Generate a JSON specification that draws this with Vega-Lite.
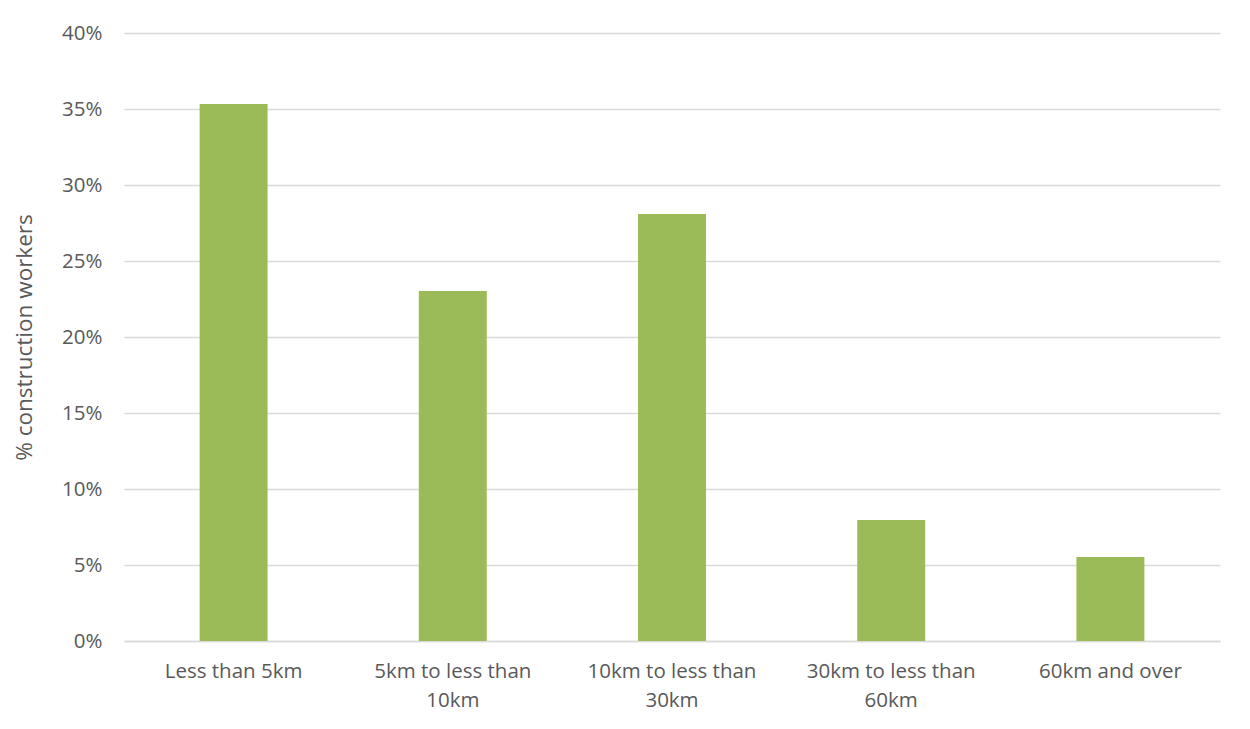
{
  "$schema": "https://vega.github.io/schema/vega-lite/v6.json",
  "width": 1096,
  "height": 608,
  "autosize": {"type": "none"},
  "padding": {"left": 124, "top": 33, "right": 30, "bottom": 88},
  "background": "white",
  "config": {
    "view": {"stroke": null},
    "font": "Open Sans"
  },
  "data": {
    "values": [
      {"distance": "Less than 5km", "pct": 0.3533},
      {"distance": "5km to less than|10km", "pct": 0.2303},
      {"distance": "10km to less than|30km", "pct": 0.2809},
      {"distance": "30km to less than|60km", "pct": 0.0796},
      {"distance": "60km and over", "pct": 0.0553}
    ]
  },
  "mark": {"type": "bar", "color": "#9BBB59"},
  "encoding": {
    "x": {
      "field": "distance",
      "type": "nominal",
      "sort": null,
      "scale": {"paddingInner": 0.69, "paddingOuter": 0.345},
      "axis": {
        "title": null,
        "labelExpr": "split(datum.value, '|')",
        "labelAngle": 0,
        "labelFont": "Open Sans",
        "labelFontSize": 20.5,
        "labelColor": "#595959",
        "labelPadding": 20,
        "labelLineHeight": 29,
        "ticks": false,
        "domainColor": "#D9D9D9",
        "domainWidth": 1.5,
        "grid": false
      }
    },
    "y": {
      "field": "pct",
      "type": "quantitative",
      "scale": {"domain": [0, 0.4]},
      "axis": {
        "title": "% construction workers",
        "titleFont": "Open Sans",
        "titleFontSize": 22.5,
        "titleFontWeight": "normal",
        "titleColor": "#595959",
        "titlePadding": 25,
        "format": ".0%",
        "values": [0, 0.05, 0.1, 0.15, 0.2, 0.25, 0.3, 0.35, 0.4],
        "labelFont": "Open Sans",
        "labelFontSize": 20.5,
        "labelColor": "#595959",
        "labelPadding": 22,
        "ticks": false,
        "domain": false,
        "gridColor": "#D9D9D9",
        "gridWidth": 1.5
      }
    }
  }
}
